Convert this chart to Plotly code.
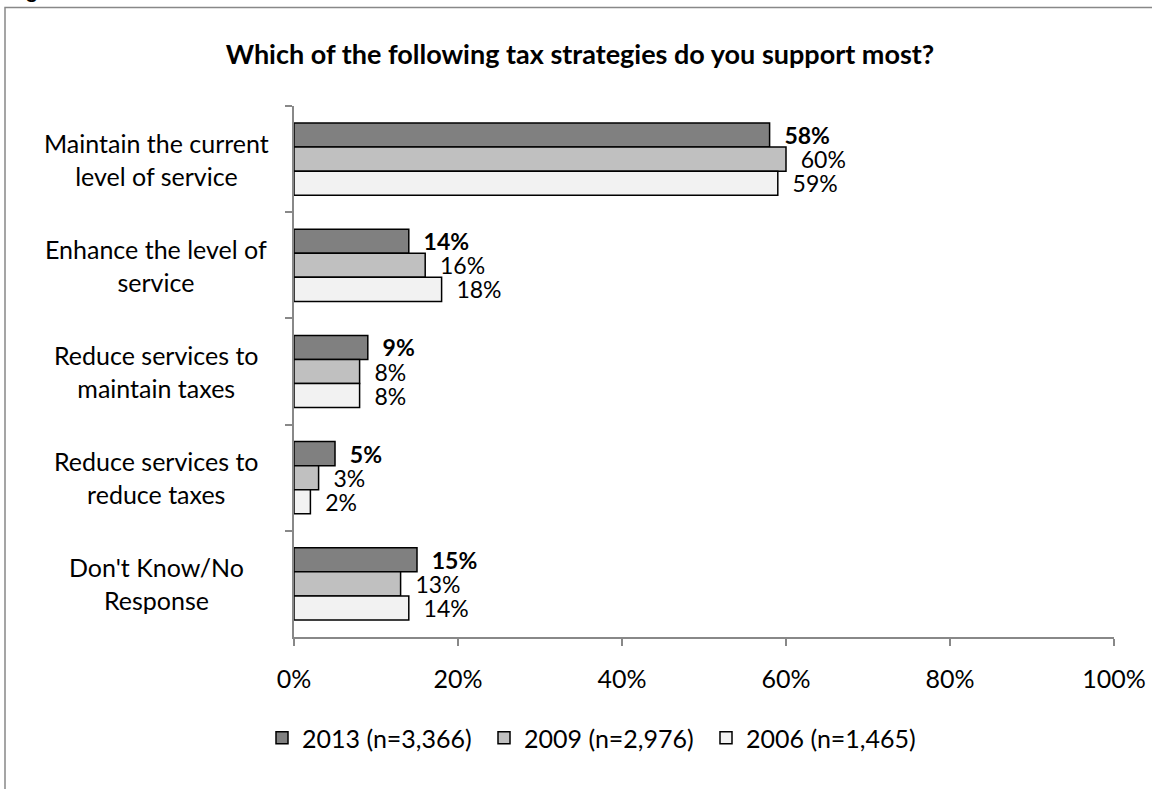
import plotly.graph_objects as go

categories = ["Maintain the current level of service", "Enhance the level of service",
              "Reduce services to maintain taxes", "Reduce services to reduce taxes",
              "Don't Know/No Response"]
cat_labels = ["Maintain the current<br>level of service", "Enhance the level of<br>service",
              "Reduce services to<br>maintain taxes", "Reduce services to<br>reduce taxes",
              "Don't Know/No<br>Response"]
series_names = ["2013 (n=3,366)", "2009 (n=2,976)", "2006 (n=1,465)"]
v2013 = [0.58, 0.14, 0.09, 0.05, 0.15]
v2009 = [0.60, 0.16, 0.08, 0.03, 0.13]
v2006 = [0.59, 0.18, 0.08, 0.02, 0.14]
x_ticks = [0, 0.2, 0.4, 0.6, 0.8, 1.0]

FONT = "Lato"
FS = 25
W, H = 1152, 789
L, R, T, B = 294, 1114, 106, 637
ml, mr, mt, mb = L, W - R, T, H - B
pw, ph = R - L, B - T

def px_x(x):
    return (x - L) / pw

def px_y(y):
    return (B - y) / ph

fills = ["#808080", "#C0C0C0", "#F2F2F2"]
fig = go.Figure()
for i, (name, vals, col) in enumerate(zip(series_names, [v2013, v2009, v2006], fills)):
    tmpl = "\u00a0\u00a0<b>%{x:.0%}</b>" if i == 0 else "\u00a0\u00a0%{x:.0%}"
    fig.add_trace(go.Bar(
        name=name, y=categories, x=vals, orientation="h",
        marker=dict(color=col, line=dict(color="#000000", width=1.5)),
        texttemplate=tmpl, textposition="outside", constraintext="none",
        outsidetextfont=dict(family=FONT, size=23, color="#000000"),
        cliponaxis=False,
    ))

for cat, lab in zip(categories, cat_labels):
    fig.add_annotation(x=px_x(156), xref="paper", y=cat, yref="y", text=lab,
                       showarrow=False, xanchor="center", yanchor="middle", align="center",
                       font=dict(family=FONT, size=FS, color="#000000"))

fig.add_annotation(x=px_x(8), xref="paper", y=px_y(-10), yref="paper", text="<b>Figure 3</b>",
                   showarrow=False, xanchor="left", yanchor="middle",
                   font=dict(family=FONT, size=20, color="#000000"))

fig.add_shape(type="rect", xref="paper", yref="paper",
              x0=px_x(5), x1=px_x(1170), y0=px_y(7.5), y1=px_y(820),
              line=dict(color="#888888", width=1.5), fillcolor="rgba(0,0,0,0)", layer="below")

fig.update_layout(
    width=W, height=H,
    margin=dict(l=ml, r=mr, t=mt, b=mb, autoexpand=False),
    paper_bgcolor="#FFFFFF", plot_bgcolor="#FFFFFF",
    barmode="group", bargap=0.32, bargroupgap=0,
    font=dict(family=FONT, size=FS, color="#000000"),
    title=dict(text="<b>Which of the following tax strategies do you support most?</b>",
               x=580 / W, xanchor="center", y=1 - 55 / H, yanchor="middle",
               font=dict(family=FONT, size=27, color="#000000")),
    xaxis=dict(range=[0, 1], tickvals=x_ticks, tickformat=".0%", showgrid=False, zeroline=False,
               showline=True, linecolor="#888888", linewidth=1.5,
               ticks="outside", ticklen=7, tickcolor="#888888", tickwidth=1.5,
               ticklabelstandoff=12, tickfont=dict(family=FONT, size=FS, color="#000000")),
    yaxis=dict(autorange="reversed", showticklabels=False, showgrid=False, zeroline=False,
               showline=True, linecolor="#888888", linewidth=1.5,
               ticks="outside", ticklen=7, tickcolor="#888888", tickwidth=1.5, tickson="boundaries"),
    showlegend=True,
    legend=dict(orientation="h", x=px_x(262), xanchor="left", y=px_y(738), yanchor="middle",
                entrywidth=177, entrywidthmode="pixels", traceorder="normal",
                font=dict(family=FONT, size=FS, color="#000000"), bgcolor="rgba(0,0,0,0)"),
)

fig.write_html("out.html", config={"displayModeBar": False},
               post_script="document.body.style.margin='0px';document.body.style.overflow='hidden';")
